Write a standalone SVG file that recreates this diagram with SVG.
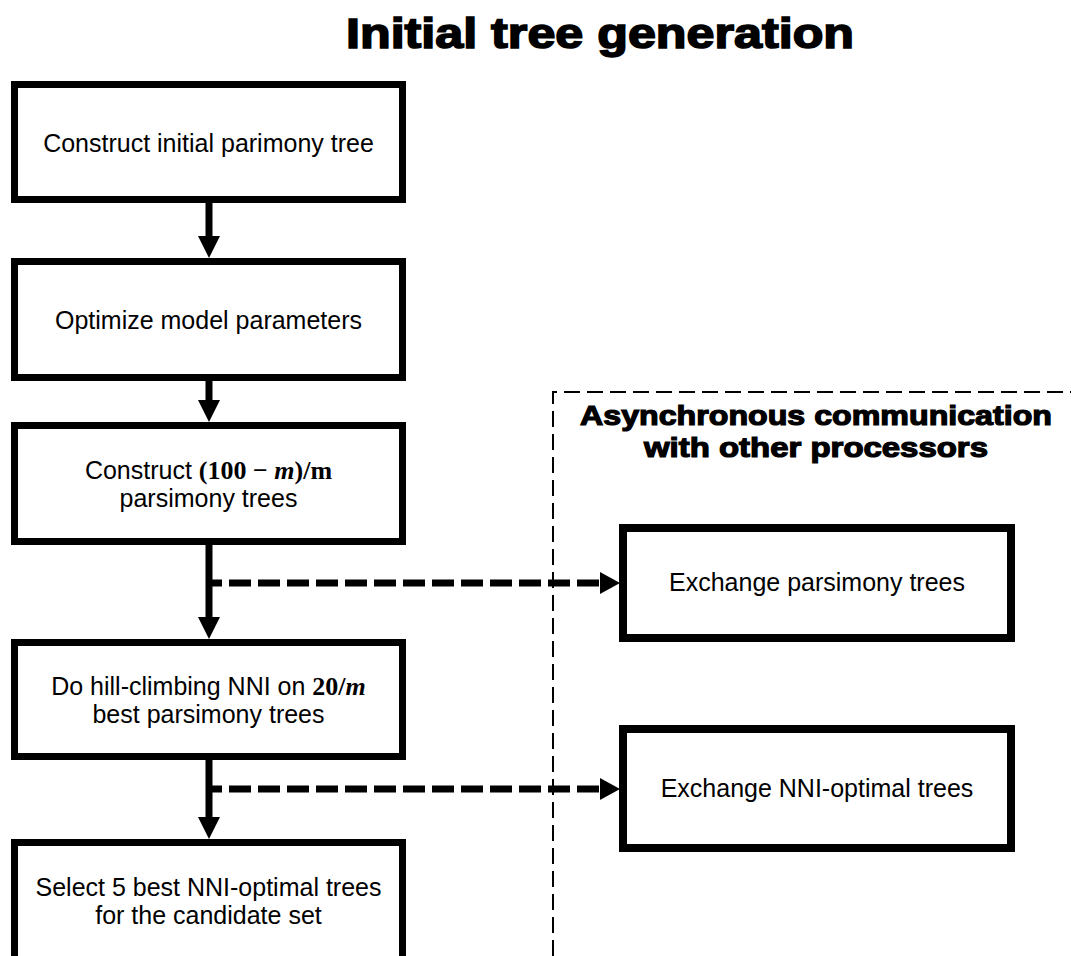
<svg xmlns="http://www.w3.org/2000/svg" width="1071" height="956" viewBox="0 0 1071 956">
  <style>
    .box { fill: #ffffff; stroke: #000000; stroke-width: 7; }
    .rbox { fill: #ffffff; stroke: #000000; stroke-width: 8; }
    .lbl { font-family: "Liberation Sans", Arial, sans-serif; font-size: 25px; fill: #000000; text-anchor: middle; }
    .math { font-family: "Liberation Serif", "Times New Roman", serif; font-weight: bold; }
    .head { font-family: "Liberation Sans", Arial, sans-serif; font-weight: bold; fill: #000000; stroke: #000000; text-anchor: middle; }
    .flow { stroke: #000000; stroke-width: 7; fill: none; }
    .dash { stroke: #000000; stroke-width: 7; fill: none; stroke-dasharray: 22 7; stroke-dashoffset: 12; }
    .region { stroke: #000000; stroke-width: 2; fill: none; stroke-dasharray: 16 7; }
    .tip { fill: #000000; }
  </style>

  <rect width="1071" height="956" fill="#ffffff"/>

  <!-- title -->
  <text class="head" x="600" y="48" font-size="42" stroke-width="1.6" textLength="508" lengthAdjust="spacingAndGlyphs">Initial tree generation</text>

  <!-- communication region outline -->
  <g id="comm-region">
    <path class="region" d="M553,956 V392 H1071"/>
    <text class="head" x="816" y="425" font-size="27" stroke-width="1.2" textLength="472" lengthAdjust="spacingAndGlyphs">Asynchronous communication</text>
    <text class="head" x="816" y="457" font-size="27" stroke-width="1.2" textLength="344" lengthAdjust="spacingAndGlyphs">with other processors</text>
  </g>

  <!-- connectors -->
  <g id="connectors">
    <line class="flow" x1="209" y1="203" x2="209" y2="237"/>
    <polygon class="tip" points="198,236 220,236 209,258"/>

    <line class="flow" x1="209" y1="381" x2="209" y2="401"/>
    <polygon class="tip" points="198,400 220,400 209,422"/>

    <line class="flow" x1="209" y1="545" x2="209" y2="618"/>
    <polygon class="tip" points="198,617 220,617 209,639"/>

    <line class="flow" x1="209" y1="760" x2="209" y2="818"/>
    <polygon class="tip" points="198,817 220,817 209,839"/>

    <line class="dash" x1="212" y1="583" x2="601" y2="583"/>
    <polygon class="tip" points="600,572 600,594 620,583"/>

    <line class="dash" x1="212" y1="789" x2="601" y2="789"/>
    <polygon class="tip" points="600,778 600,800 620,789"/>
  </g>

  <!-- main pipeline -->
  <g id="n-initial-parsimony">
    <rect class="box" x="14.5" y="84.5" width="388" height="115"/>
    <text class="lbl" x="208.5" y="152">Construct initial parimony tree</text>
  </g>

  <g id="n-optimize-model">
    <rect class="box" x="14.5" y="261.5" width="388" height="116"/>
    <text class="lbl" x="208.5" y="329">Optimize model parameters</text>
  </g>

  <g id="n-construct-parsimony">
    <rect class="box" x="14.5" y="425.5" width="388" height="116"/>
    <text class="lbl" x="208.5" y="479">Construct <tspan class="math" font-size="26">(100 − <tspan font-style="italic">m</tspan>)/m</tspan></text>
    <text class="lbl" x="208.5" y="507">parsimony trees</text>
  </g>

  <g id="n-hill-climbing">
    <rect class="box" x="14.5" y="642.5" width="388" height="114"/>
    <text class="lbl" x="208.5" y="695">Do hill-climbing NNI on <tspan class="math" font-size="26">20/<tspan font-style="italic">m</tspan></tspan></text>
    <text class="lbl" x="208.5" y="723">best parsimony trees</text>
  </g>

  <g id="n-select-candidates">
    <rect class="box" x="14.5" y="842.5" width="388" height="140"/>
    <text class="lbl" x="208.5" y="896">Select 5 best NNI-optimal trees</text>
    <text class="lbl" x="208.5" y="924">for the candidate set</text>
  </g>

  <!-- exchange steps -->
  <g id="n-exchange-parsimony">
    <rect class="rbox" x="623" y="528" width="388" height="110"/>
    <text class="lbl" x="817" y="591">Exchange parsimony trees</text>
  </g>

  <g id="n-exchange-nni">
    <rect class="rbox" x="623" y="729" width="388" height="119"/>
    <text class="lbl" x="817" y="797">Exchange NNI-optimal trees</text>
  </g>
</svg>
